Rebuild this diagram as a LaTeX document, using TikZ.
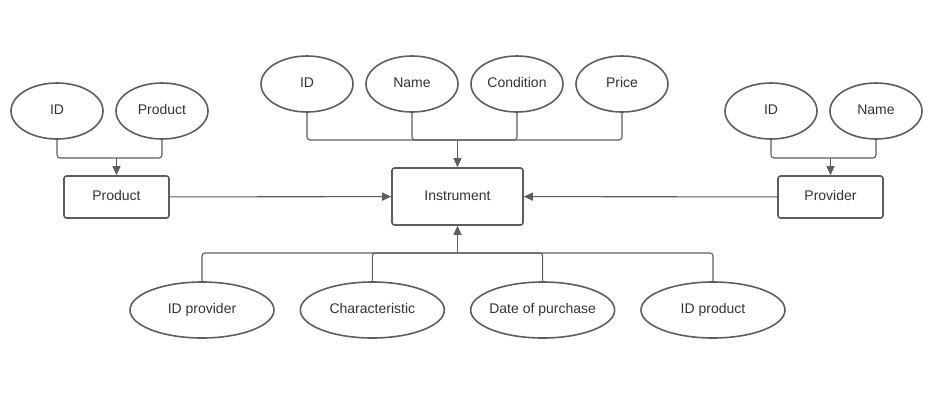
\documentclass[tikz,border=0pt]{standalone}
\usepackage{fontspec}
\setmainfont{Liberation Sans}
\usetikzlibrary{shapes.geometric}
\usetikzlibrary{arrows.meta}
\usetikzlibrary{math}
\definecolor{edgegray}{HTML}{5E5E5E}
\definecolor{textgray}{HTML}{333333}

\begin{document}
\begin{tikzpicture}[x=1pt,y=-1pt,
	attr/.style={ellipse,draw=edgegray,line width=1.6pt,minimum width=92pt,minimum height=56pt,inner sep=0pt,text=textgray,text height=10pt,text depth=3pt,font=\fontsize{14}{16}\selectfont},
	wattr/.style={attr,minimum width=144pt,inner xsep=-8pt},
	entity/.style={rectangle,rounded corners=2.5pt,draw=edgegray,line width=1.6pt,minimum width=105pt,minimum height=42pt,inner sep=0pt,text=textgray,text height=10pt,text depth=3pt,font=\fontsize{14}{16}\selectfont},
	link/.style={draw=edgegray,line width=1.1pt,rounded corners=3pt},
	arr/.style={link,-{Triangle[length=9pt,width=8pt]}}]
	\useasboundingbox (0,0) rectangle (935,416);
	\tikzmath{\dx=105; \ux=307; \uy=84; \lx=57; \ly=111; \rx=771;
	\bx=202; \by=310; \bdx=170.33;
	\ex=457.5; \ey=196.5;
	}
	% instrument attributes (top)
	\node[attr] (iid) at (\ux,\uy) {ID};
	\node[attr] (iname) at (\ux+\dx,\uy) {Name};
	\node[attr] (icond) at (\ux+2*\dx,\uy) {Condition};
	\node[attr] (iprice) at (\ux+3*\dx,\uy) {Price};
	% product and provider attributes
	\node[attr] (pid) at (\lx,\ly) {ID};
	\node[attr] (pname) at (\lx+\dx,\ly) {Product};
	\node[attr] (vid) at (\rx,\ly) {ID};
	\node[attr] (vname) at (\rx+\dx,\ly) {Name};
	% entities
	\node[entity] (prod) at (116.5,197) {Product};
	\node[entity,minimum width=131pt,minimum height=57pt] (inst) at (\ex,\ey) {Instrument};
	\node[entity] (prov) at (830.5,197) {Provider};
	% instrument attributes (bottom)
	\node[wattr] (iprov) at (\bx,\by) {ID provider};
	\node[wattr] (ichar) at (\bx+\bdx,\by) {Characteristic};
	\node[wattr] (idate) at (\bx+2*\bdx,\by) {Date of purchase};
	\node[wattr] (iprod) at (\bx+3*\bdx,\by) {ID product};
	% junctions
	\coordinate (jtop) at (\ex,140);
	\coordinate (jbot) at (\ex,253);
	\coordinate (jprod) at (116.5,158);
	\coordinate (jprov) at (830.5,158);
	\foreach \n in {iid,iname,icond,iprice}
		\draw[link] (\n.south) |- (jtop);
	\draw[arr] (jtop) -- (inst.north);
	\foreach \n in {iprov,ichar,idate,iprod}
		\draw[link] (\n.north) |- (jbot);
	\draw[arr] (jbot) -- (inst.south);
	\foreach \n in {pid,pname}
		\draw[link] (\n.south) |- (jprod);
	\draw[arr] (jprod) -- (prod.north);
	\foreach \n in {vid,vname}
		\draw[link] (\n.south) |- (jprov);
	\draw[arr] (jprov) -- (prov.north);
	\draw[arr] (prod) -- (inst);
	\draw[arr] (prov) -- (inst);
\end{tikzpicture}
\end{document}
